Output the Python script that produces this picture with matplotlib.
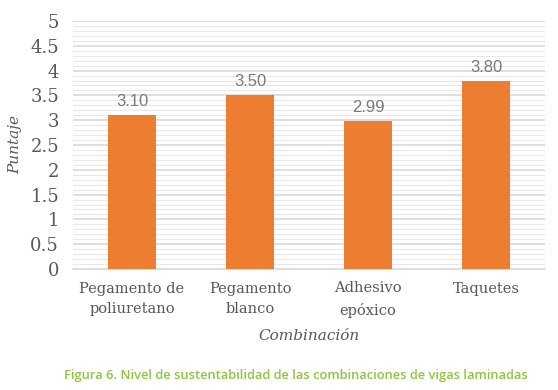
import matplotlib
matplotlib.use("Agg")
import matplotlib.pyplot as plt
import numpy as np
from matplotlib.ticker import MultipleLocator

categorias = ["Pegamento de\npoliuretano", "Pegamento\nblanco", "Adhesivo\nepóxico", "Taquetes"]
puntaje = [3.10, 3.50, 2.99, 3.80]
etiquetas = ["3.10", "3.50", "2.99", "3.80"]

naranja = "#ED7D31"
gris = "#595959"

fig = plt.figure(figsize=(5.58, 3.9), dpi=100)
ax = fig.add_axes([73 / 558, 1 - 269 / 390, 472 / 558, 248 / 390])

x = np.arange(len(categorias))
bars = ax.bar(x, puntaje, width=0.4, color=naranja, zorder=3)

for b, t in zip(bars, etiquetas):
    ax.text(b.get_x() + b.get_width() / 2, b.get_height() + 0.12, t,
            ha="center", va="bottom", fontsize=12, color="#7A7A7A",
            family="Liberation Sans")

ax.set_xlim(-0.5, 3.5)
ax.set_ylim(0, 5)
ax.yaxis.set_minor_locator(MultipleLocator(0.1))
ax.set_yticks(np.arange(0, 5.01, 0.5))
ax.set_yticklabels(["0", "0.5", "1", "1.5", "2", "2.5", "3", "3.5", "4", "4.5", "5"])
ax.grid(axis="y", which="major", color="#D9D9D9", linewidth=1.2, zorder=0)
ax.grid(axis="y", which="minor", color="#E8E8E8", linewidth=0.8, zorder=0)

ax.set_xticks(x)
ax.set_xticklabels(categorias, fontsize=10.5, color=gris, family="DejaVu Serif",
                   linespacing=1.6)
for lbl in ax.get_yticklabels():
    lbl.set_family("DejaVu Serif")
    lbl.set_fontsize(13)
    lbl.set_color(gris)

ax.tick_params(axis="both", which="both", length=0)
ax.tick_params(axis="y", pad=10)
ax.tick_params(axis="x", pad=9)

for s in ["top", "right", "left"]:
    ax.spines[s].set_visible(False)
ax.spines["bottom"].set_color("#D9D9D9")
ax.spines["bottom"].set_linewidth(1.2)

ax.set_ylabel("Puntaje", fontsize=11, style="italic", color=gris,
              family="DejaVu Serif", labelpad=6)
ax.set_xlabel("Combinación", fontsize=11, style="italic", color=gris,
              family="DejaVu Serif", labelpad=8)

fig.text(296 / 558, 1 - 376 / 390, "Figura 6. Nivel de sustentabilidad de las combinaciones de vigas laminadas",
         ha="center", va="center", fontsize=9.3, color="#8DC63F", family="Open Sans",
         fontweight="semibold")

fig.savefig("out.png", dpi=100)
